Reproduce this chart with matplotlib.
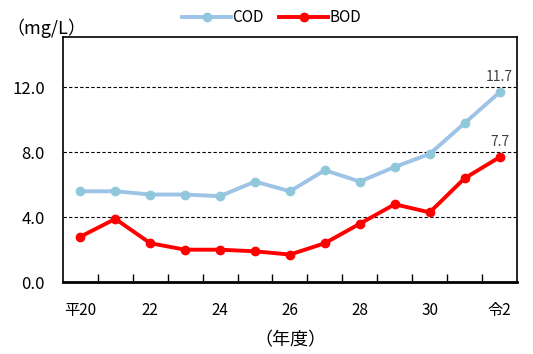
import matplotlib
matplotlib.use('Agg')
import matplotlib.pyplot as plt
import numpy as np

plt.rcParams['font.family'] = ['Noto Sans CJK JP', 'DejaVu Sans']

years = ['平20', '21', '22', '23', '24', '25', '26', '27', '28', '29', '30', '31', '令2']
cod = [5.6, 5.6, 5.4, 5.4, 5.3, 6.2, 5.6, 6.9, 6.2, 7.1, 7.9, 9.8, 11.7]
bod = [2.8, 3.9, 2.4, 2.0, 2.0, 1.9, 1.7, 2.4, 3.6, 4.8, 4.3, 6.4, 7.7]
yticks = [0.0, 4.0, 8.0, 12.0]

fig = plt.figure(figsize=(5.33, 3.54), dpi=100)
ax = fig.add_axes([0.118, 0.203, 0.852, 0.692])

x = np.arange(len(years))
ax.plot(x, cod, color='#9dc3e6', linewidth=2.8, marker='o', markersize=6,
        markerfacecolor='#8ec8da', markeredgecolor='#8ec8da', label='COD')
ax.plot(x, bod, color='#ff0000', linewidth=2.8, marker='o', markersize=6,
        label='BOD')

ax.set_xlim(-0.5, len(years) - 0.5)
ax.set_ylim(0, 15.1)
ax.set_yticks(yticks)
ax.set_yticklabels([f"{v:.1f}" for v in yticks], fontsize=12)
ax.tick_params(axis='y', length=0, pad=13)

ax.set_xticks(x[::2])
ax.set_xticklabels(years[::2], fontsize=11)
ax.set_xticks(np.arange(0.5, len(years) - 0.5, 1.0), minor=True)
ax.tick_params(axis='x', which='major', length=0, pad=14)
ax.tick_params(axis='x', which='minor', direction='in', length=6, width=1)

for v in yticks[1:]:
    ax.axhline(v, color='k', linestyle=(0, (3, 2)), linewidth=0.8, zorder=0)

for s in ax.spines.values():
    s.set_linewidth(1.2)
ax.spines['bottom'].set_linewidth(2)

ax.text(x[-1], cod[-1] + 0.5, f"{cod[-1]}", ha='center', va='bottom', fontsize=10, color='#404040')
ax.text(x[-1], bod[-1] + 0.5, f"{bod[-1]}", ha='center', va='bottom', fontsize=10, color='#404040')

fig.text(0.012, 0.905, '（mg/L）', fontsize=13)
ax.set_xlabel('（年度）', fontsize=13, labelpad=9)

ax.legend(loc='lower center', bbox_to_anchor=(0.46, 1.02), ncol=2, frameon=False,
          fontsize=11, handlelength=3.2, handletextpad=0.1, columnspacing=1.0,
          borderaxespad=0)

fig.savefig('out.png', dpi=100)
